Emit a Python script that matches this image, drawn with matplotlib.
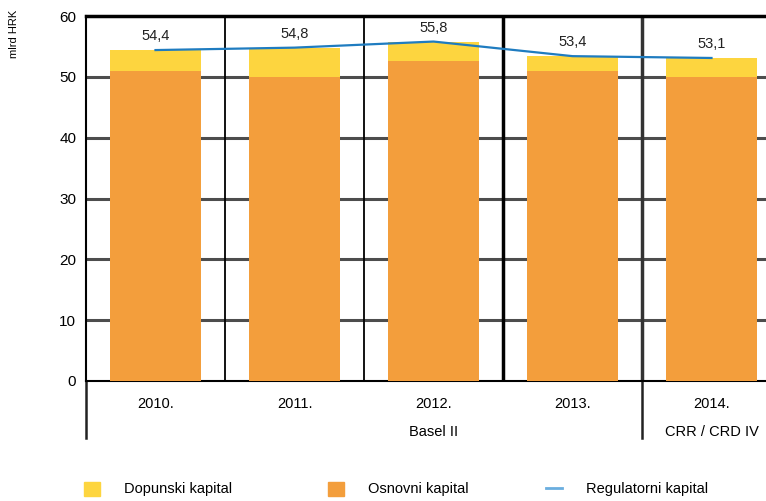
import matplotlib.pyplot as plt
from matplotlib.patches import Patch
from matplotlib.lines import Line2D
import matplotlib.transforms as mtransforms

plt.rcParams['font.family'] = ['Liberation Sans', 'DejaVu Sans']

years = ["2010.", "2011.", "2012.", "2013.", "2014."]
osnovni = [51.0, 49.9, 52.6, 50.9, 49.9]
dopunski = [3.4, 4.9, 3.2, 2.5, 3.2]
regulatorni = [54.4, 54.8, 55.8, 53.4, 53.1]
total_labels = ["54,4", "54,8", "55,8", "53,4", "53,1"]
groups = ["Basel II", "CRR / CRD IV"]
legend_names = ["Dopunski kapital", "Osnovni kapital", "Regulatorni kapital"]

ORANGE = "#f39e3c"
YELLOW = "#fdd53f"
BLUE = "#1f7cc0"

fig = plt.figure(figsize=(7.66, 5.01), dpi=100)
ax = fig.add_axes([86 / 766, 1 - 381 / 501, 695 / 766, 365 / 501])

x = list(range(len(years)))
ax.bar(x, osnovni, width=0.66, color=ORANGE, zorder=3)
ax.bar(x, dopunski, bottom=osnovni, width=0.66, color=YELLOW, zorder=3)
ax.plot(x, regulatorni, color=BLUE, lw=1.6, zorder=4)

for xi, v, lab in zip(x, regulatorni, total_labels):
    ax.annotate(lab, (xi, v), xytext=(0, 5), textcoords="offset points",
                ha="center", va="bottom", fontsize=10.5, color="#222222")

ax.set_xlim(-0.5, 4.5)
ax.set_ylim(0, 60)
ax.set_yticks(range(0, 61, 10))
ax.set_xticks([])
ax.tick_params(axis="y", length=0, labelsize=11, pad=7)
for yv in range(10, 60, 10):
    ax.axhline(yv, color="#4d4d4d", lw=2.2, zorder=1)

ax.spines["top"].set_linewidth(2.5)
ax.spines["left"].set_linewidth(1.5)
ax.spines["bottom"].set_linewidth(1.5)
ax.spines["right"].set_visible(False)

# category separators
for xv, lw, c in [(0.5, 1.3, "black"), (1.5, 1.3, "black"),
                  (2.5, 2.5, "black"), (3.5, 2.5, "#333333")]:
    ax.axvline(xv, color=c, lw=lw, zorder=2)

# labels under the axis
trans = mtransforms.blended_transform_factory(ax.transData, ax.transAxes)
for xi, yr in zip(x, years):
    ax.text(xi, -0.063, yr, transform=trans, ha="center", va="center", fontsize=10.5)
ax.text(2.0, -0.14, groups[0], transform=trans, ha="center", va="center", fontsize=10.5)
ax.text(4.0, -0.14, groups[1], transform=trans, ha="center", va="center", fontsize=10.5)
for xv in (-0.5, 3.5):
    ax.plot([xv, xv], [0, -0.156], transform=trans, color="#222222",
            lw=1.8, clip_on=False)

ax.text(-0.104, 0.95, "mlrd HRK", transform=ax.transAxes, rotation=90,
        ha="center", va="center", fontsize=8)

handles = [Patch(color=YELLOW), Patch(color=ORANGE),
           Line2D([], [], color="#6aaedf", lw=2)]
anchors = [80 / 766, 324 / 766, 542 / 766]
for h, name, ax_x in zip(handles, legend_names, anchors):
    leg = fig.legend([h], [name], loc="center left",
                     bbox_to_anchor=(ax_x, 1 - 489 / 501), frameon=False,
                     fontsize=10.5, handlelength=1.1, handleheight=1.1,
                     handletextpad=1.6, borderpad=0, borderaxespad=0.3)

fig.savefig("out.png", dpi=100)
